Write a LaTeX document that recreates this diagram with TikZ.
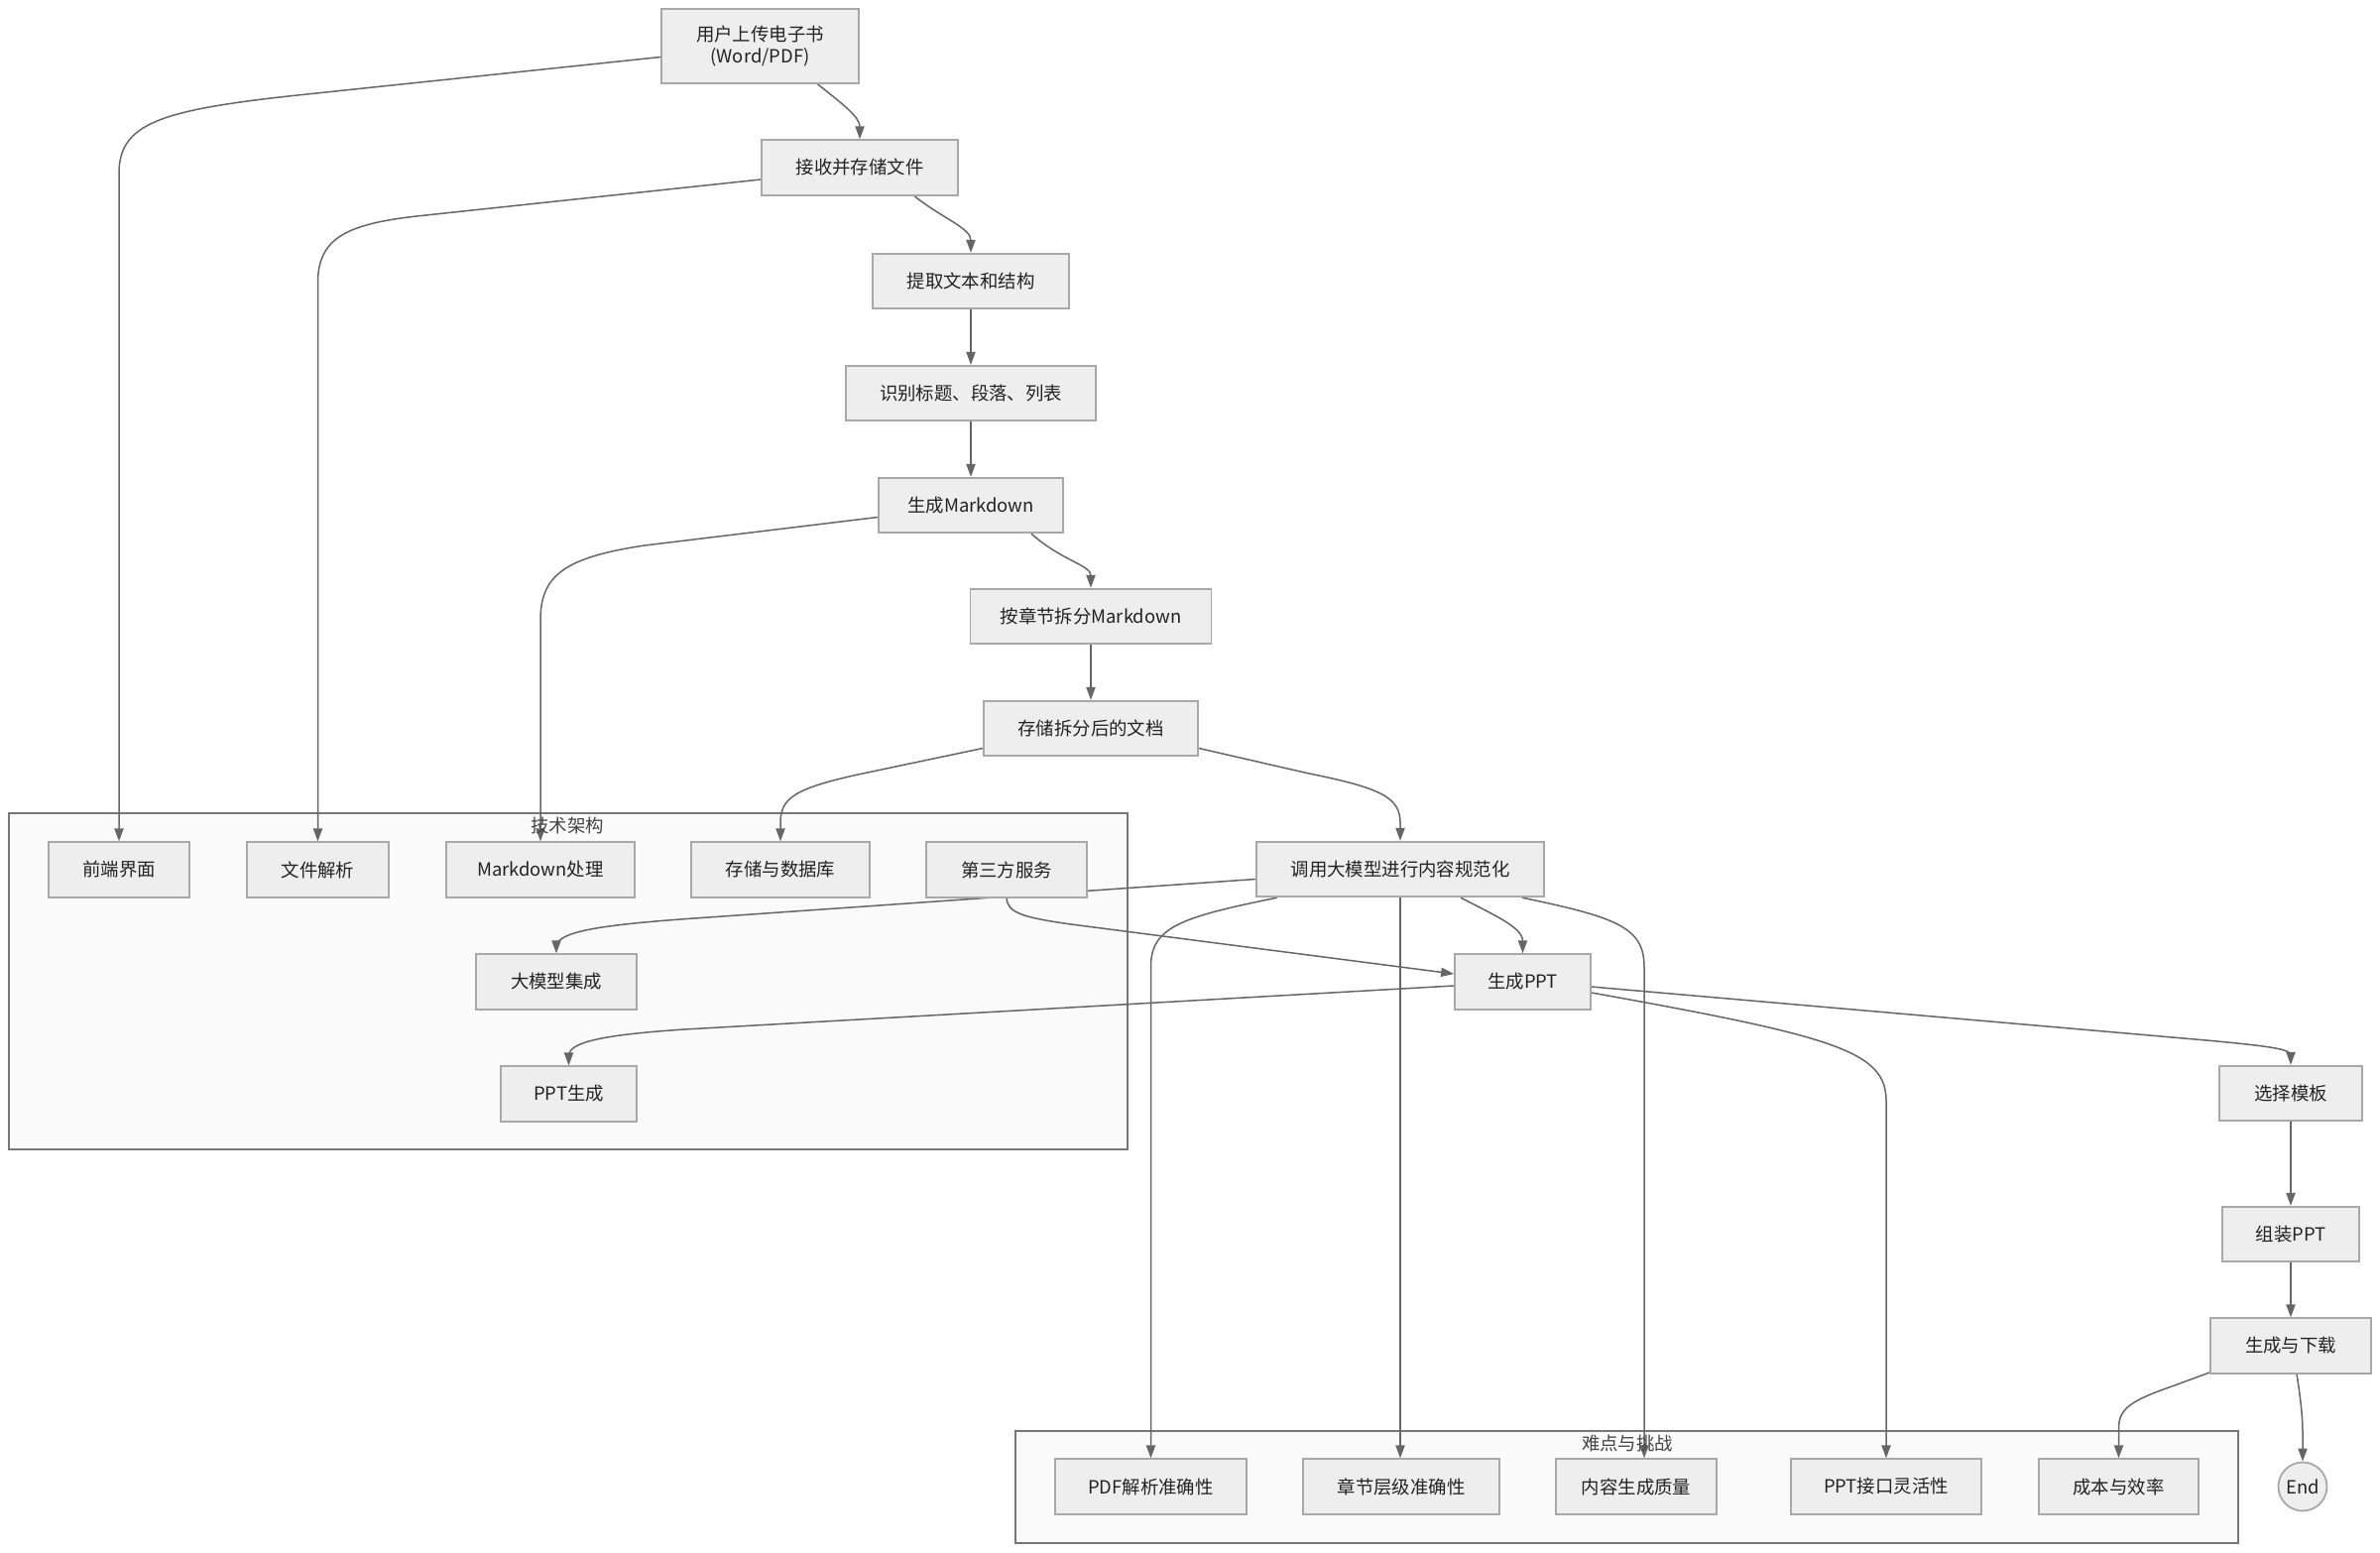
\documentclass[tikz,border=0pt]{standalone}
\usepackage{fontspec}
\setmainfont{Noto Sans CJK SC}
\usetikzlibrary{arrows.meta,calc,fit}
\definecolor{nodefill}{HTML}{EEEEEE}
\definecolor{nodeline}{HTML}{A8A8A8}
\definecolor{edgecol}{HTML}{666666}
\definecolor{clfill}{HTML}{FAFAFA}
\definecolor{clline}{HTML}{777777}
\definecolor{txt}{HTML}{222222}
\definecolor{cltxt}{HTML}{444444}
\pgfdeclarelayer{bg}\pgfdeclarelayer{edges}\pgfsetlayers{bg,edges,main}
\begin{document}
\begin{tikzpicture}[x=0.5pt,y=-0.5pt,
 box/.style={draw=nodeline, fill=nodefill, line width=0.9pt, minimum height=27.75pt, inner sep=0pt, text=txt, font=\fontsize{9.2pt}{11pt}\selectfont, align=center},
 edge/.style={draw=edgecol, line width=0.75pt, -{Triangle[length=6.5pt,width=4.6pt]}},
 cluster/.style={draw=clline, fill=clfill, line width=0.8pt, inner sep=0pt},
 cltitle/.style={text=cltxt, font=\fontsize{9.2pt}{11pt}\selectfont, inner sep=0pt}]
\useasboundingbox (0,0) rectangle (2400,1565);

% clusters
\begin{pgfonlayer}{bg}
\fill[white] (0,0) rectangle (2400,1565);
\node[cluster, fit={(9,820) (1137,1159)}] (arch) {};
\node[cluster, fit={(1024,1443) (2257,1556)}] (chal) {};
\end{pgfonlayer}
\node[cltitle] (archt) at (572,833) {技术架构};
\node[cltitle] (chalt) at (1641,1455) {难点与挑战};

% main flow
\node[box, minimum width=99.5pt, minimum height=37.5pt] (n1) at (766.5,46.5) {用户上传电子书\\(Word/PDF)};
\node[box, minimum width=99pt] (n2) at (867,169) {接收并存储文件};
\node[box, minimum width=99pt] (n3) at (979,283.5) {提取文本和结构};
\node[box, minimum width=126pt] (n4) at (979,396.5) {识别标题、段落、列表};
\node[box, minimum width=93pt] (n5) at (979,509.5) {生成Markdown};
\node[box, minimum width=121.5pt] (n6) at (1100,621.5) {按章节拆分Markdown};
\node[box, minimum width=108pt] (n7) at (1100,734.5) {存储拆分后的文档};
\node[box, minimum width=145pt] (n8) at (1412,876.5) {调用大模型进行内容规范化};
\node[box, minimum width=68.5pt] (n9) at (1535.5,990) {生成PPT};
\node[box, minimum width=72pt] (tpl) at (2310,1102.5) {选择模板};
\node[box, minimum width=69pt] (asm) at (2310,1244.5) {组装PPT};
\node[box, minimum width=81pt] (dl) at (2310,1357) {生成与下载};
\node[box, circle, minimum size=24.5pt] (end) at (2322,1499) {End};

% tech architecture
\node[box, minimum width=71pt] (fe) at (120,877) {前端界面};
\node[box, minimum width=71.5pt] (fp) at (320.5,877) {文件解析};
\node[box, minimum width=95pt] (md) at (545,877) {Markdown处理};
\node[box, minimum width=90pt] (db) at (787,877) {存储与数据库};
\node[box, minimum width=81pt] (tp) at (1015,877) {第三方服务};
\node[box, minimum width=81pt] (llm) at (561,990) {大模型集成};
\node[box, minimum width=68.5pt] (pg) at (573.5,1103) {PPT生成};

% challenges
\node[box, minimum width=96.5pt] (c1) at (1160.5,1499) {PDF解析准确性};
\node[box, minimum width=99pt] (c2) at (1413,1499) {章节层级准确性};
\node[box, minimum width=81pt] (c3) at (1650,1499) {内容生成质量};
\node[box, minimum width=96pt] (c4) at (1902,1499) {PPT接口灵活性};
\node[box, minimum width=80.5pt] (c5) at (2136.5,1499) {成本与效率};

\begin{pgfonlayer}{edges}
% E1
\draw[edge] ($(n1.west)+(0,11)$) -- (300,96) .. controls (160,111) and (120,125) .. (120,175) -- (fe.north);
% E2
\draw[edge] ($(n1.south)+(58,0)$) .. controls (850,105) and (867,118) .. (n2.north);
% E3
\draw[edge] ($(n2.west)+(0,12)$) -- (420,218) .. controls (350,226) and (320.5,240) .. (320.5,285) -- (fp.north);
% E4
\draw[edge] ($(n2.south)+(55,0)$) .. controls (950,220) and (979,230) .. (n3.north);
% E5, E6
\draw[edge] (n3.south) -- (n4.north);
\draw[edge] (n4.south) -- (n5.north);
% E7
\draw[edge] ($(n5.west)+(0,12)$) -- (650,550) .. controls (570,562) and (545,580) .. (545,625) -- (md.north);
% E8
\draw[edge] ($(n5.south)+(61,0)$) .. controls (1070,565) and (1100,570) .. (n6.north);
% E9
\draw[edge] (n6.south) -- (n7.north);
% E10
\draw[edge] ($(n7.west)+(0,20)$) -- (870,780) .. controls (800,795) and (787,805) .. (787,830) -- (db.north);
% E11
\draw[edge] ($(n7.east)+(0,20)$) -- (1320,780) .. controls (1395,795) and (1412,805) .. (1412,830) -- (n8.north);
% E12
\draw[edge] ($(n8.west)+(0,10)$) -- (700,926) .. controls (600,933) and (561,940) .. (561,955) -- (llm.north);
% E13
\draw[edge] (tp.south) .. controls (1016,920) and (1030,925) .. (1080,932) -- ($(n9.west)+(0,-8)$);
% E14
\draw[edge] ($(n9.west)+(0,4)$) -- (690,1038) .. controls (600,1044) and (573.5,1052) .. (573.5,1065) -- (pg.north);
% E15
\draw[edge] ($(n8.south)+(61,0)$) .. controls (1505,922) and (1535.5,935) .. (n9.north);
% E16
\draw[edge] ($(n8.south)+(-124,0)$) .. controls (1190,925) and (1160.5,935) .. (1160.5,975) -- (c1.north);
% E17
\draw[edge] (n8.south) -- (n8.south |- c2.north);
% E18
\draw[edge] ($(n8.south)+(123,0)$) .. controls (1630,925) and (1658,935) .. (1658,975) -- ($(c3.north)+(8,0)$);
% E19
\draw[edge] ($(n9.east)+(0,11)$) .. controls (1850,1045) and (1902,1060) .. (1902,1110) -- (c4.north);
% E20
\draw[edge] ($(n9.east)+(0,5)$) -- (2225,1049) .. controls (2290,1055) and (2310,1058) .. (2310,1064) -- (tpl.north);
% E21, E22
\draw[edge] (tpl.south) -- (asm.north);
\draw[edge] (asm.south) -- (dl.north);
% E23
\draw[edge] ($(dl.west)+(0,27)$) -- (2190,1398) .. controls (2150,1412) and (2136.5,1420) .. (2136.5,1440) -- (c5.north);
% E24
\draw[edge] ($(dl.south)+(6,0)$) .. controls (2320,1410) and (2322,1430) .. (2322,1445) -- (end.north);
\end{pgfonlayer}
\end{tikzpicture}
\end{document}
